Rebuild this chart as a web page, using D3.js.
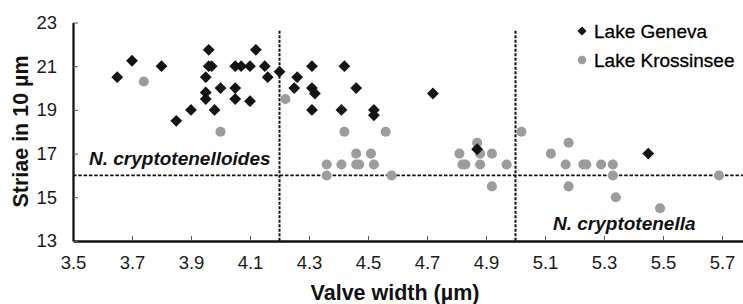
<!DOCTYPE html>
<html>
<head>
<meta charset="utf-8">
<script src="https://cdn.jsdelivr.net/npm/d3@7"></script>
<style>
  html, body { margin: 0; padding: 0; background: #fff; }
  svg { display: block; font-family: "Liberation Sans", Arial, sans-serif; }
</style>
</head>
<body>
<svg id="chart" width="743" height="304"></svg>
<script>
// ---- Data ----
const genevaWidth  = [3.65, 3.70, 3.80, 3.85, 3.90, 3.95, 3.95, 3.95, 3.96, 3.96, 3.97, 3.98, 4.00, 4.05, 4.05, 4.05, 4.07, 4.10, 4.10, 4.12, 4.15, 4.16, 4.20, 4.25, 4.26, 4.31, 4.31, 4.32, 4.31, 4.41, 4.42, 4.46, 4.52, 4.52, 4.72, 4.87, 5.45];
const genevaStriae = [20.5, 21.25, 21.0, 18.5, 19.0, 19.5, 19.8, 20.5, 21.75, 21.0, 21.0, 19.0, 20.0, 21.0, 20.0, 19.5, 21.0, 21.0, 19.4, 21.75, 21.0, 20.5, 20.75, 20.0, 20.5, 21.0, 20.0, 19.75, 19.0, 19.0, 21.0, 20.0, 19.0, 18.75, 19.75, 17.2, 17.0];

const krossWidth  = [3.74, 4.00, 4.22, 4.36, 4.36, 4.41, 4.42, 4.46, 4.46, 4.47, 4.51, 4.52, 4.56, 4.58, 4.81, 4.82, 4.83, 4.87, 4.88, 4.88, 4.92, 4.92, 4.97, 5.02, 5.12, 5.18, 5.17, 5.18, 5.23, 5.24, 5.29, 5.33, 5.33, 5.34, 5.49, 5.69];
const krossStriae = [20.3, 18.0, 19.5, 16.5, 16.0, 16.5, 18.0, 17.0, 16.5, 16.5, 17.0, 16.5, 18.0, 16.0, 17.0, 16.5, 16.5, 17.5, 17.0, 16.5, 17.0, 15.5, 16.5, 18.0, 17.0, 17.5, 16.5, 15.5, 16.5, 16.5, 16.5, 16.5, 16.0, 15.0, 14.5, 16.0];

const xTicks = [3.5, 3.7, 3.9, 4.1, 4.3, 4.5, 4.7, 4.9, 5.1, 5.3, 5.5, 5.7];
const yTicks = [13, 15, 17, 19, 21, 23];
const seriesNames = ["Lake Geneva", "Lake Krossinsee"];
const widthThresholds = [4.2, 5.0];
const striaeThreshold = 16;
const regionLabels = ["N. cryptotenelloides", "N. cryptotenella"];

// ---- Layout ----
const svg = d3.select("#chart");
const x = d3.scaleLinear().domain([3.5, 5.8]).range([73, 751.5]);
const y = d3.scaleLinear().domain([13, 23]).range([241, 22.5]);
const clrBlack = "#141414", clrGrey = "#9c9c9c";

// threshold lines
svg.selectAll("line.vthr").data(widthThresholds).enter().append("line")
  .attr("x1", d => x(d)).attr("x2", d => x(d))
  .attr("y1", y(22.62)).attr("y2", y(13))
  .attr("stroke", "#111").attr("stroke-width", 2).attr("stroke-dasharray", "3,1.5");
svg.append("line")
  .attr("x1", x(3.5)).attr("x2", 743)
  .attr("y1", y(striaeThreshold)).attr("y2", y(striaeThreshold))
  .attr("stroke", "#111").attr("stroke-width", 1.7).attr("stroke-dasharray", "3.5,1.8");

// axes
const xAxis = d3.axisBottom(x).tickValues(xTicks).tickSizeInner(-5).tickSizeOuter(0).tickPadding(15)
  .tickFormat(d3.format(".1f"));
const gx = svg.append("g").attr("transform", `translate(0,${y(13)})`).call(xAxis);
gx.select(".domain").attr("stroke", "#111").attr("stroke-width", 2.5);
gx.selectAll(".tick line").attr("stroke", "#555").attr("stroke-width", 1);
gx.selectAll(".tick text").attr("font-size", 18.5).attr("fill", "#1a1a1a")
  .attr("font-family", "'Liberation Sans', Arial, sans-serif").attr("dy", "0.71em");

const yAxis = d3.axisLeft(y).tickValues(yTicks).tickSizeInner(-5).tickSizeOuter(0).tickPadding(16)
  .tickFormat(d3.format("d"));
const gy = svg.append("g").attr("transform", `translate(${x(3.5)},0)`).call(yAxis);
gy.select(".domain").attr("stroke", "#111").attr("stroke-width", 2.3);
gy.selectAll(".tick line").attr("stroke", "#555").attr("stroke-width", 1);
gy.selectAll(".tick text").attr("font-size", 18.5).attr("fill", "#1a1a1a")
  .attr("font-family", "'Liberation Sans', Arial, sans-serif");

// axis titles
svg.append("text").attr("x", 395).attr("y", 300).attr("text-anchor", "middle")
  .attr("font-size", 21.5).attr("font-weight", "bold").attr("fill", "#111")
  .text("Valve width (µm)");
svg.append("text").attr("transform", `translate(28,131.5) rotate(-90)`).attr("text-anchor", "middle")
  .attr("font-size", 21.5).attr("font-weight", "bold").attr("fill", "#111")
  .text("Striae in 10 µm");

// region labels
svg.append("text").attr("x", 89).attr("y", 165).attr("font-size", 19)
  .attr("font-weight", "bold").attr("font-style", "italic").attr("fill", "#111").text(regionLabels[0]);
svg.append("text").attr("x", 553).attr("y", 230).attr("font-size", 19)
  .attr("font-weight", "bold").attr("font-style", "italic").attr("fill", "#111").text(regionLabels[1]);

// points
const diamond = d3.symbol().type(d3.symbolSquare).size(70);
const circle = d3.symbol().type(d3.symbolCircle).size(80);
const kData = krossWidth.map((w, i) => [w, krossStriae[i]]);
const gData = genevaWidth.map((w, i) => [w, genevaStriae[i]]);

svg.append("g").selectAll("path").data(kData).enter().append("path")
  .attr("d", circle).attr("fill", clrGrey)
  .attr("transform", d => `translate(${x(d[0])},${y(d[1])})`);
svg.append("g").selectAll("path").data(gData).enter().append("path")
  .attr("d", diamond).attr("fill", clrBlack)
  .attr("transform", d => `translate(${x(d[0])},${y(d[1])}) rotate(45)`);

// legend
const lg = svg.append("g");
lg.append("path").attr("d", d3.symbol().type(d3.symbolSquare).size(42)).attr("fill", clrBlack)
  .attr("transform", "translate(582,31) rotate(45)");
lg.append("path").attr("d", d3.symbol().type(d3.symbolCircle).size(58)).attr("fill", clrGrey)
  .attr("transform", "translate(582,60)");
lg.append("text").attr("x", 594).attr("y", 37.5).attr("font-size", 19).attr("fill", "#000")
  .attr("stroke", "#000").attr("stroke-width", 0.3).text(seriesNames[0]);
lg.append("text").attr("x", 594).attr("y", 66.5).attr("font-size", 19).attr("fill", "#000")
  .attr("stroke", "#000").attr("stroke-width", 0.3).text(seriesNames[1]);
</script>
</body>
</html>
